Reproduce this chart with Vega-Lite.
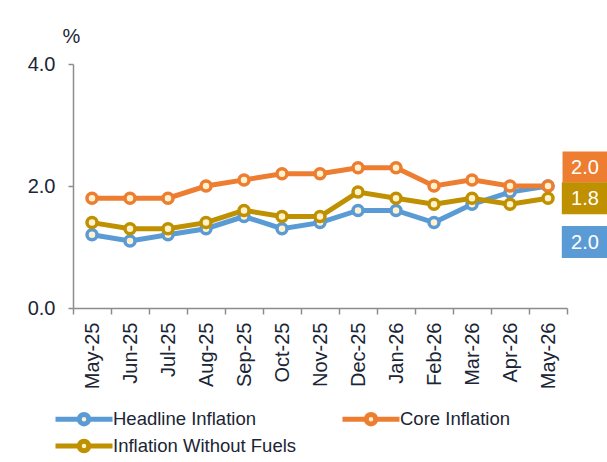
{
  "$schema": "https://vega.github.io/schema/vega-lite/v6.json",
  "width": 494,
  "height": 244,
  "autosize": {"type": "none"},
  "padding": {"left": 73, "top": 64, "right": 40, "bottom": 154},
  "background": "white",
  "config": {"font": "Liberation Sans", "view": {"stroke": null}},
  "data": {
    "values": [
      {"series": "Headline Inflation", "month": "May-25", "value": 1.2},
      {"series": "Headline Inflation", "month": "Jun-25", "value": 1.1},
      {"series": "Headline Inflation", "month": "Jul-25", "value": 1.2},
      {"series": "Headline Inflation", "month": "Aug-25", "value": 1.3},
      {"series": "Headline Inflation", "month": "Sep-25", "value": 1.5},
      {"series": "Headline Inflation", "month": "Oct-25", "value": 1.3},
      {"series": "Headline Inflation", "month": "Nov-25", "value": 1.4},
      {"series": "Headline Inflation", "month": "Dec-25", "value": 1.6},
      {"series": "Headline Inflation", "month": "Jan-26", "value": 1.6},
      {"series": "Headline Inflation", "month": "Feb-26", "value": 1.4},
      {"series": "Headline Inflation", "month": "Mar-26", "value": 1.7},
      {"series": "Headline Inflation", "month": "Apr-26", "value": 1.9},
      {"series": "Headline Inflation", "month": "May-26", "value": 2.0},
      {"series": "Core Inflation", "month": "May-25", "value": 1.8},
      {"series": "Core Inflation", "month": "Jun-25", "value": 1.8},
      {"series": "Core Inflation", "month": "Jul-25", "value": 1.8},
      {"series": "Core Inflation", "month": "Aug-25", "value": 2.0},
      {"series": "Core Inflation", "month": "Sep-25", "value": 2.1},
      {"series": "Core Inflation", "month": "Oct-25", "value": 2.2},
      {"series": "Core Inflation", "month": "Nov-25", "value": 2.2},
      {"series": "Core Inflation", "month": "Dec-25", "value": 2.3},
      {"series": "Core Inflation", "month": "Jan-26", "value": 2.3},
      {"series": "Core Inflation", "month": "Feb-26", "value": 2.0},
      {"series": "Core Inflation", "month": "Mar-26", "value": 2.1},
      {"series": "Core Inflation", "month": "Apr-26", "value": 2.0},
      {"series": "Core Inflation", "month": "May-26", "value": 2.0},
      {"series": "Inflation Without Fuels", "month": "May-25", "value": 1.4},
      {"series": "Inflation Without Fuels", "month": "Jun-25", "value": 1.3},
      {"series": "Inflation Without Fuels", "month": "Jul-25", "value": 1.3},
      {"series": "Inflation Without Fuels", "month": "Aug-25", "value": 1.4},
      {"series": "Inflation Without Fuels", "month": "Sep-25", "value": 1.6},
      {"series": "Inflation Without Fuels", "month": "Oct-25", "value": 1.5},
      {"series": "Inflation Without Fuels", "month": "Nov-25", "value": 1.5},
      {"series": "Inflation Without Fuels", "month": "Dec-25", "value": 1.9},
      {"series": "Inflation Without Fuels", "month": "Jan-26", "value": 1.8},
      {"series": "Inflation Without Fuels", "month": "Feb-26", "value": 1.7},
      {"series": "Inflation Without Fuels", "month": "Mar-26", "value": 1.8},
      {"series": "Inflation Without Fuels", "month": "Apr-26", "value": 1.7},
      {"series": "Inflation Without Fuels", "month": "May-26", "value": 1.8}
    ]
  },
  "encoding": {
    "x": {
      "field": "month",
      "type": "nominal",
      "sort": ["May-25","Jun-25","Jul-25","Aug-25","Sep-25","Oct-25","Nov-25","Dec-25","Jan-26","Feb-26","Mar-26","Apr-26","May-26"],
      "scale": {"type": "band", "paddingInner": 0, "paddingOuter": 0},
      "axis": {
        "title": null,
        "labelAngle": -90,
        "labelAlign": "right",
        "labelBaseline": "middle",
        "labelFontSize": 20,
        "labelColor": "#1a2535",
        "labelPadding": 8,
        "tickSize": 6,
        "tickBand": "extent",
        "tickColor": "#8c8c8c",
        "tickWidth": 1.5,
        "domainColor": "#8c8c8c",
        "domainWidth": 1.5,
        "grid": false
      }
    },
    "y": {
      "field": "value",
      "type": "quantitative",
      "scale": {"domain": [0, 4]},
      "axis": {
        "title": "%",
        "titleAngle": 0,
        "titleX": -2,
        "titleY": -22,
        "titleAlign": "center",
        "titleBaseline": "alphabetic",
        "titleFontSize": 20,
        "titleFontWeight": "normal",
        "titleColor": "#1a2535",
        "values": [0, 2, 4],
        "format": ".1f",
        "labelFontSize": 20,
        "labelColor": "#1a2535",
        "labelPadding": 13,
        "tickSize": 5,
        "tickColor": "#8c8c8c",
        "tickWidth": 1.5,
        "domainColor": "#8c8c8c",
        "domainWidth": 1.5,
        "grid": false
      }
    }
  },
  "layer": [
    {
      "mark": {"type": "line", "strokeWidth": 5},
      "encoding": {
        "stroke": {
          "field": "series",
          "type": "nominal",
          "scale": {"domain": ["Headline Inflation", "Inflation Without Fuels", "Core Inflation"], "range": ["#5b9bd5", "#bf9000", "#ed7d31"]},
          "legend": {
            "orient": "none",
            "legendX": -1,
            "legendY": 343,
            "columns": 2,
            "columnPadding": 35,
            "rowPadding": -3,
            "title": null,
            "labelFontSize": 18.5,
            "labelLimit": 400,
            "labelColor": "#1a2535",
            "symbolType": "M-3,0L-0.5,0M0.5,0L3,0M0.5,0A0.5,0.5 0 1 1 -0.5,0A0.5,0.5 0 1 1 0.5,0",
            "symbolSize": 361,
            "symbolStrokeWidth": 5,
            "symbolFillColor": "#fff2cc",
            "labelOffset": 17
          }
        }
      }
    },
    {
      "mark": {"type": "point", "filled": false, "fill": "#fff2cc", "fillOpacity": 1, "opacity": 1, "strokeWidth": 3.5, "size": 100},
      "encoding": {
        "stroke": {"field": "series", "type": "nominal"}
      }
    },
    {
      "transform": [{"filter": "datum.month === 'May-26' && datum.series === 'Core Inflation'"}],
      "layer": [
        {"mark": {"type": "point", "shape": "M-1.45,-1L1.45,-1L1.45,1L-1.45,1Z", "size": 961, "filled": true, "color": "#ed7d31", "fill": "#ed7d31", "opacity": 1, "strokeWidth": 0, "xOffset": 37, "yOffset": -19}},
        {"mark": {"type": "text", "fontSize": 20, "color": "white", "align": "center", "baseline": "middle", "xOffset": 37, "yOffset": -18}, "encoding": {"text": {"field": "value", "type": "quantitative", "format": ".1f"}}}
      ]
    },
    {
      "transform": [{"filter": "datum.month === 'May-26' && datum.series === 'Inflation Without Fuels'"}],
      "layer": [
        {"mark": {"type": "point", "shape": "M-1.45,-1L1.45,-1L1.45,1L-1.45,1Z", "size": 1024, "filled": true, "color": "#bf9000", "fill": "#bf9000", "opacity": 1, "strokeWidth": 0, "xOffset": 37, "yOffset": 0}},
        {"mark": {"type": "text", "fontSize": 20, "color": "white", "align": "center", "baseline": "middle", "xOffset": 37, "yOffset": 1}, "encoding": {"text": {"field": "value", "type": "quantitative", "format": ".1f"}}}
      ]
    },
    {
      "transform": [{"filter": "datum.month === 'May-26' && datum.series === 'Headline Inflation'"}],
      "layer": [
        {"mark": {"type": "point", "shape": "M-1.45,-1L1.45,-1L1.45,1L-1.45,1Z", "size": 1024, "filled": true, "color": "#5b9bd5", "fill": "#5b9bd5", "opacity": 1, "strokeWidth": 0, "xOffset": 37, "yOffset": 56}},
        {"mark": {"type": "text", "fontSize": 20, "color": "white", "align": "center", "baseline": "middle", "xOffset": 37, "yOffset": 57}, "encoding": {"text": {"field": "value", "type": "quantitative", "format": ".1f"}}}
      ]
    }
  ]
}
